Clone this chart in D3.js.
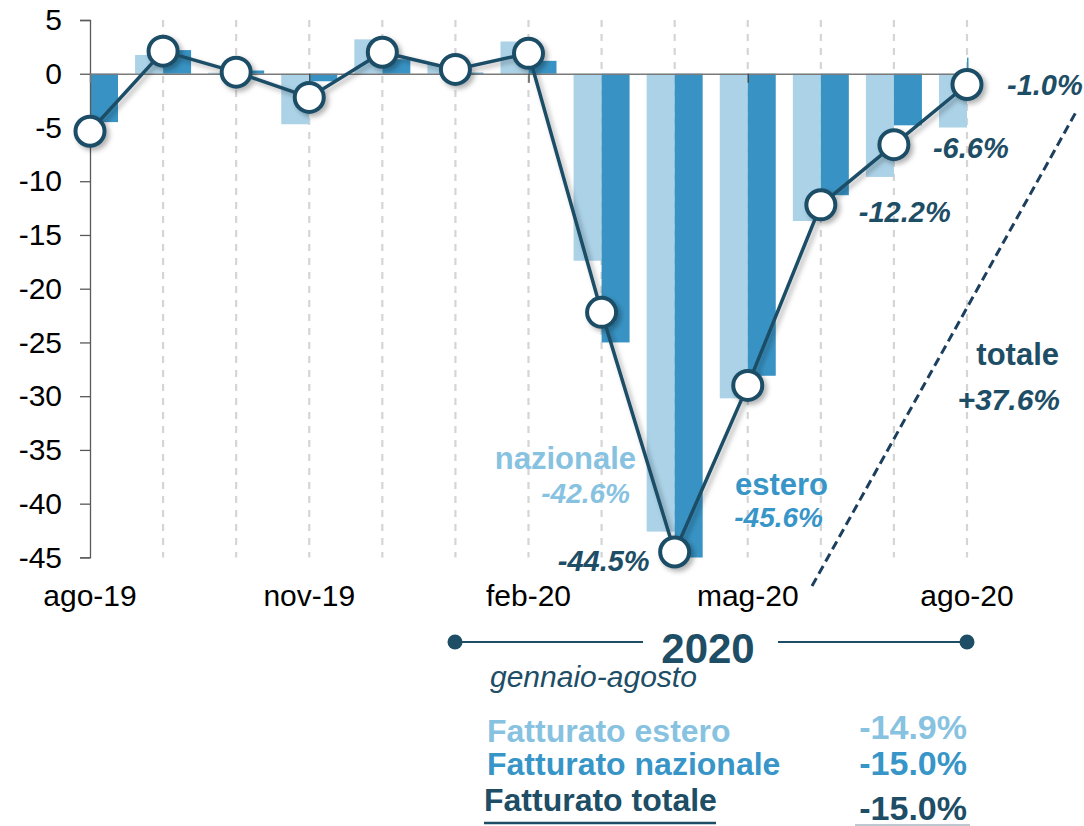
<!DOCTYPE html>
<html>
<head>
<meta charset="utf-8">
<script src="https://cdn.jsdelivr.net/npm/d3@7"></script>
<style>
  html, body { margin: 0; padding: 0; background: #fff; }
  svg { display: block; font-family: "Liberation Sans", Arial, sans-serif; }
</style>
</head>
<body>
<script>
const months = ["ago-19", "set-19", "ott-19", "nov-19", "dic-19", "gen-20", "feb-20",
  "mar-20", "apr-20", "mag-20", "giu-20", "lug-20", "ago-20"]
const shownMonths = ["ago-19", "nov-19", "feb-20", "mag-20", "ago-20"]
const yTicks = [5, 0, -5, -10, -15, -20, -25, -30, -35, -40, -45]

// light bars / dark bars / line
const nazionale = [-6.0, 1.75, 0.1, -4.7, 3.2, 0.9, 3.0, -17.4, -42.6, -30.2, -13.7, -9.6, -5.0]
const estero = [-4.5, 2.2, 0.3, -0.7, 1.35, 0.1, 1.2, -25.0, -45.6, -28.1, -11.3, -4.8, 1.5]
const totale = [-5.35, 2.1, 0.15, -2.2, 2.0, 0.4, 1.9, -22.2, -44.5, -29.0, -12.2, -6.6, -1.0]

const lineLabels = ["-1.0%", "-6.6%", "-12.2%", "-44.5%"]
const summaryLabels = ["Fatturato estero", "Fatturato nazionale", "Fatturato totale"]
const summaryValues = ["-14.9%", "-15.0%", "-15.0%"]

const width = 1084
const height = 826
const plot = { left: 90, right: 967, top: 20, bottom: 557.4 }

const cDark = "#1e4d66"
const cLight = "#abd2e7"
const cMid = "#3893c4"
const cLightText = "#88c2e1"
const cMidText = "#3795c8"

const svg = d3.select("body").append("svg")
  .attr("width", width)
  .attr("height", height)

const defs = svg.append("defs")
defs.append("clipPath").attr("id", "plotclip")
  .append("rect")
  .attr("x", plot.left).attr("y", plot.top)
  .attr("width", plot.right - plot.left + 1.5)
  .attr("height", plot.bottom - plot.top)

const shadow = defs.append("filter").attr("id", "shadow")
  .attr("x", "-50%").attr("y", "-50%").attr("width", "200%").attr("height", "200%")
shadow.append("feDropShadow")
  .attr("dx", 3).attr("dy", 3).attr("stdDeviation", 2.5)
  .attr("flood-color", "#000").attr("flood-opacity", 0.3)

const x = d3.scalePoint().domain(months).range([plot.left, plot.right])
const y = d3.scaleLinear().domain([-45, 5]).range([plot.bottom, plot.top])
const bw = 28

// dashed gridlines
svg.append("g")
  .selectAll("line")
  .data(months.slice(1))
  .enter()
  .append("line")
  .attr("x1", d => x(d)).attr("x2", d => x(d))
  .attr("y1", plot.top).attr("y2", plot.bottom)
  .attr("stroke", "#d5d5d5")
  .attr("stroke-width", 2.2)
  .attr("stroke-dasharray", "7,7")

// bars
const bars = svg.append("g").attr("clip-path", "url(#plotclip)")
bars.selectAll("rect.naz")
  .data(nazionale)
  .enter()
  .append("rect")
  .attr("class", "naz")
  .attr("x", (d, i) => x(months[i]) - bw)
  .attr("y", d => y(Math.max(0, d)))
  .attr("width", bw)
  .attr("height", d => Math.abs(y(d) - y(0)))
  .attr("fill", cLight)

bars.selectAll("rect.est")
  .data(estero)
  .enter()
  .append("rect")
  .attr("class", "est")
  .attr("x", (d, i) => x(months[i]))
  .attr("y", d => y(Math.max(0, d)))
  .attr("width", bw)
  .attr("height", d => Math.abs(y(d) - y(0)))
  .attr("fill", cMid)

// y axis
const yAxis = svg.append("g")
  .attr("transform", `translate(${plot.left},0)`)
  .call(d3.axisLeft(y).tickValues(yTicks).tickSize(10).tickPadding(18).tickFormat(d3.format("d")))
yAxis.select(".domain").attr("stroke", "#595959").attr("stroke-width", 1.3)
yAxis.selectAll(".tick line").attr("stroke", "#595959").attr("stroke-width", 1.3)
yAxis.selectAll(".tick text")
  .attr("fill", "#000")
  .style("font-size", "30px")
  .style("font-family", "Liberation Sans, Arial, sans-serif")
  .text(d => d < 0 ? "-" + Math.abs(d) : d)

// zero line with ticks
const xAxis = svg.append("g")
  .attr("transform", `translate(0,${y(0)})`)
  .call(d3.axisBottom(x).tickValues(shownMonths.slice(1, 4)).tickSize(9).tickFormat(""))
xAxis.select(".domain").attr("stroke", "#7a7a7a").attr("stroke-width", 1.5)
xAxis.selectAll(".tick line").attr("stroke", "#444").attr("stroke-width", 1.3)

// x labels
svg.append("g")
  .selectAll("text")
  .data(shownMonths)
  .enter()
  .append("text")
  .attr("x", d => x(d))
  .attr("y", 606)
  .attr("text-anchor", "middle")
  .style("font-size", "30px")
  .attr("fill", "#000")
  .text(d => d)

// totale line
const line = d3.line()
  .x((d, i) => x(months[i]))
  .y(d => y(d))

const lineG = svg.append("g").attr("filter", "url(#shadow)")
lineG.append("path")
  .datum(totale)
  .attr("d", line)
  .attr("fill", "none")
  .attr("stroke", cDark)
  .attr("stroke-width", 3.5)

lineG.selectAll("circle")
  .data(totale)
  .enter()
  .append("circle")
  .attr("cx", (d, i) => x(months[i]))
  .attr("cy", d => y(d))
  .attr("r", 14.5)
  .attr("fill", "#fff")
  .attr("stroke", cDark)
  .attr("stroke-width", 4)

// point labels
const labelSpots = [
  { i: 12, dx: 40, dy: 11, anchor: "start" },
  { i: 11, dx: 39, dy: 13, anchor: "start" },
  { i: 10, dx: 38, dy: 17, anchor: "start" },
  { i: 8, dx: -25, dy: 19, anchor: "end" },
]
svg.append("g")
  .selectAll("text")
  .data(labelSpots)
  .enter()
  .append("text")
  .attr("x", d => x(months[d.i]) + d.dx)
  .attr("y", d => y(totale[d.i]) + d.dy)
  .attr("text-anchor", d => d.anchor)
  .style("font-size", "29px")
  .style("font-weight", "bold")
  .style("font-style", "italic")
  .attr("fill", cDark)
  .text((d, k) => lineLabels[k])

// series annotations
function label(tx, ty, str, color, italic, anchor, size) {
  svg.append("text")
    .attr("x", tx).attr("y", ty)
    .attr("text-anchor", anchor)
    .style("font-size", size + "px")
    .style("font-weight", "bold")
    .style("font-style", italic ? "italic" : "normal")
    .attr("fill", color)
    .text(str)
}
label(636, 469, "nazionale", cLightText, false, "end", 31)
label(630, 503, "-42.6%", cLightText, true, "end", 28)
label(735, 495, "estero", cMidText, false, "start", 31)
label(823, 527, "-45.6%", cMidText, true, "end", 28)
label(1059, 365, "totale", cDark, false, "end", 31)
label(1060, 410, "+37.6%", cDark, true, "end", 30)

// dashed diagonal
svg.append("line")
  .attr("x1", 812).attr("y1", 586)
  .attr("x2", 1076).attr("y2", 112)
  .attr("stroke", "#1d3f5e")
  .attr("stroke-width", 3)
  .attr("stroke-dasharray", "9,5")

// 2020 box
const yr = svg.append("g")
yr.append("line").attr("x1", 455).attr("x2", 643).attr("y1", 642).attr("y2", 642)
  .attr("stroke", cDark).attr("stroke-width", 2)
yr.append("line").attr("x1", 778).attr("x2", 967).attr("y1", 642).attr("y2", 642)
  .attr("stroke", cDark).attr("stroke-width", 2)
yr.selectAll("circle").data([455, 967]).enter().append("circle")
  .attr("cx", d => d).attr("cy", 642).attr("r", 7.5).attr("fill", cDark)
yr.append("text")
  .attr("x", 708).attr("y", 663)
  .attr("text-anchor", "middle")
  .style("font-size", "42px").style("font-weight", "bold")
  .attr("fill", cDark)
  .text("2020")
yr.append("text")
  .attr("x", 490).attr("y", 687)
  .style("font-size", "30px").style("font-style", "italic")
  .attr("fill", cDark)
  .text("gennaio-agosto")

// summary
const sumColors = [cLightText, cMidText, cDark]
const sumY = [742, 775, 811]
const sumValY = [739, 775, 820]
const sum = svg.append("g")
sum.selectAll("text.lab")
  .data(summaryLabels)
  .enter()
  .append("text")
  .attr("class", "lab")
  .attr("x", (d, i) => i === 2 ? 484 : 487)
  .attr("y", (d, i) => sumY[i])
  .style("font-size", "32px").style("font-weight", "bold")
  .attr("fill", (d, i) => sumColors[i])
  .text(d => d)
sum.selectAll("text.val")
  .data(summaryValues)
  .enter()
  .append("text")
  .attr("class", "val")
  .attr("x", 967)
  .attr("y", (d, i) => sumValY[i])
  .attr("text-anchor", "end")
  .style("font-size", "34px").style("font-weight", "bold")
  .attr("fill", (d, i) => sumColors[i])
  .text(d => d)
sum.append("line").attr("x1", 484).attr("x2", 716).attr("y1", 823).attr("y2", 823)
  .attr("stroke", cDark).attr("stroke-width", 2.5)
sum.append("line").attr("x1", 855).attr("x2", 970).attr("y1", 825).attr("y2", 825)
  .attr("stroke", "#a7b6c0").attr("stroke-width", 1.5)
</script>
</body>
</html>
